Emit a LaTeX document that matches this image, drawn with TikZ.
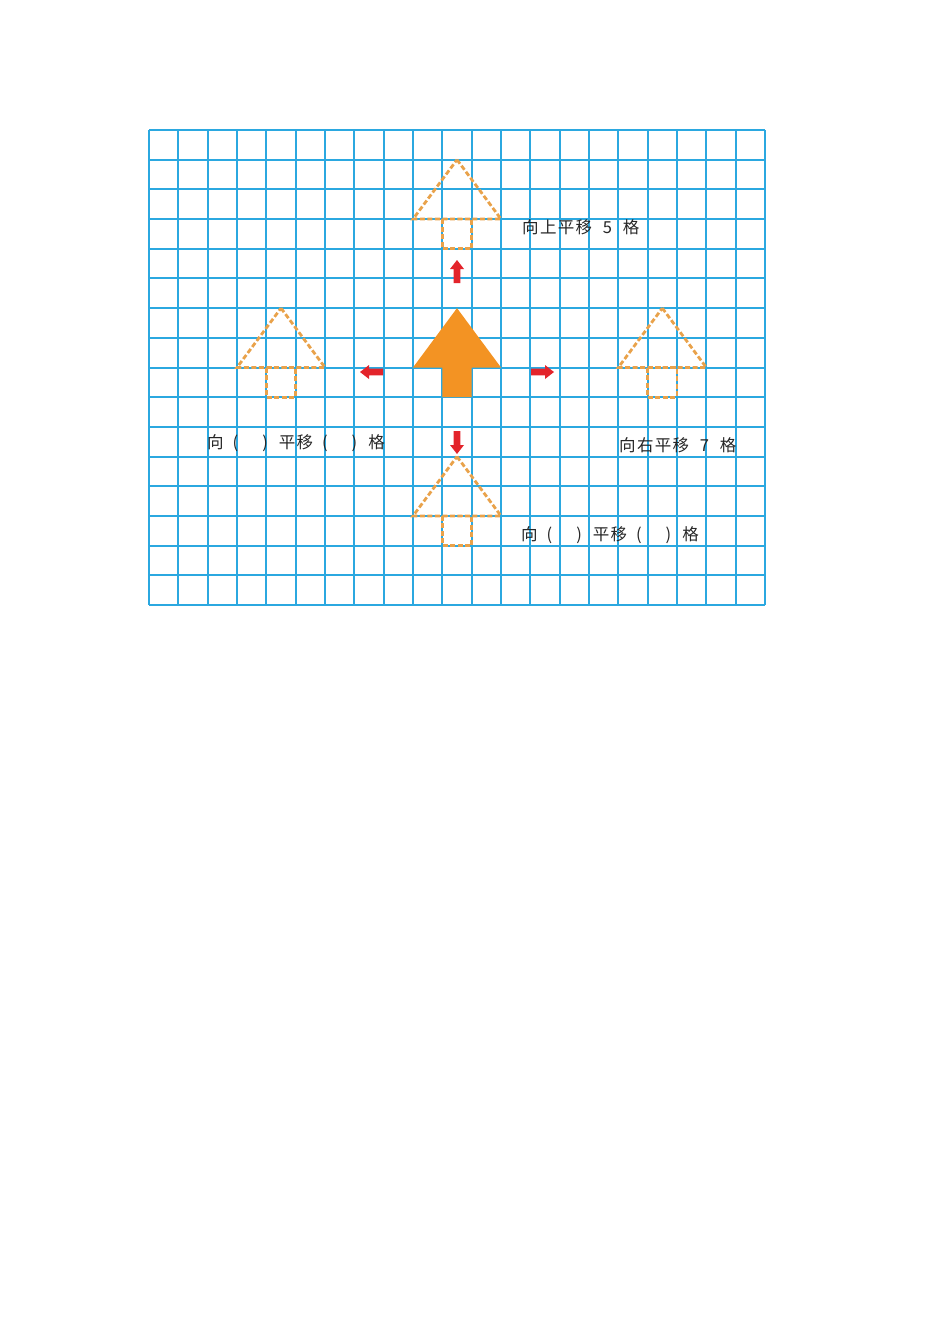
\documentclass[tikz,border=0pt]{standalone}
\usepackage{fontspec}
\newfontfamily\cjk[LetterSpace=8]{Noto Sans CJK SC}
\definecolor{gridblue}{HTML}{2BA8E0}
\definecolor{mainorange}{HTML}{F39323}
\definecolor{dashorange}{HTML}{E9A24A}
\definecolor{arrowred}{HTML}{E3242B}
\tikzset{
  gridline/.style={draw=gridblue, line width=2pt},
  ghost/.style={draw=dashorange, line width=2.8pt, dash pattern=on 5pt off 2.5pt},
  redarrow/.style={fill=arrowred, draw=none},
  label/.style={font=\cjk\fontsize{16.5}{19}\selectfont, text=black!85, inner sep=0pt, anchor=west}
}
\newcommand{\redarr}[3]{%
  \begin{scope}[shift={(#1,#2)}, rotate=#3]
    \path[redarrow] (0,-3.4) -- (14,-3.4) -- (14,-7) -- (23,0) -- (14,7) -- (14,3.4) -- (0,3.4) -- cycle;
  \end{scope}}
\newcommand{\ghostarrow}[2]{%
  \draw[ghost] (#1,#2) -- ({#1+1.5},{#2+2}) -- ({#1-1.5},{#2+2}) -- cycle;
  \draw[ghost] ({#1-0.5},{#2+2}) rectangle ({#1+0.5},{#2+3});}
\newcommand{\blank}{\hspace{9pt}(\hspace{24pt})\hspace{11pt}}
\newcommand{\digitgap}{\hspace{0.65em}}
\begin{document}
\begin{tikzpicture}[x=1pt,y=-1pt]
\useasboundingbox[fill=white] (0,0) rectangle (950,1344);
\foreach \i [evaluate=\i as \xx using {round(149+29.333*\i)}] in {0,...,21}
  \draw[gridline] (\xx,130) -- (\xx,605);
\foreach \j [evaluate=\j as \yy using {round(130+29.6875*\j)}] in {0,...,16}
  \draw[gridline] (149,\yy) -- (765,\yy);
\begin{scope}[shift={(149,130)}, x=29.333pt, y=-29.6875pt]
  % main arrow
  \fill[mainorange] (10.5,6) -- (12,8) -- (11,8) -- (11,9) -- (10,9) -- (10,8) -- (9,8) -- cycle;
  % translated outlines
  \ghostarrow{10.5}{1}
  \ghostarrow{4.5}{6}
  \ghostarrow{17.5}{6}
  \ghostarrow{10.5}{11}
\end{scope}
\redarr{457}{283}{90}
\redarr{383}{372}{180}
\redarr{531}{372}{0}
\redarr{457}{431}{-90}
\node[label] (up) at (522,227) {向上平移\digitgap 5\digitgap 格};
\node[label] (left) at (207,443) {向\blank 平移\blank 格};
\node[label] (right) at (619,445) {向右平移\digitgap 7\digitgap 格};
\node[label] (down) at (521,535) {向\blank 平移\blank 格};
\end{tikzpicture}
\end{document}
